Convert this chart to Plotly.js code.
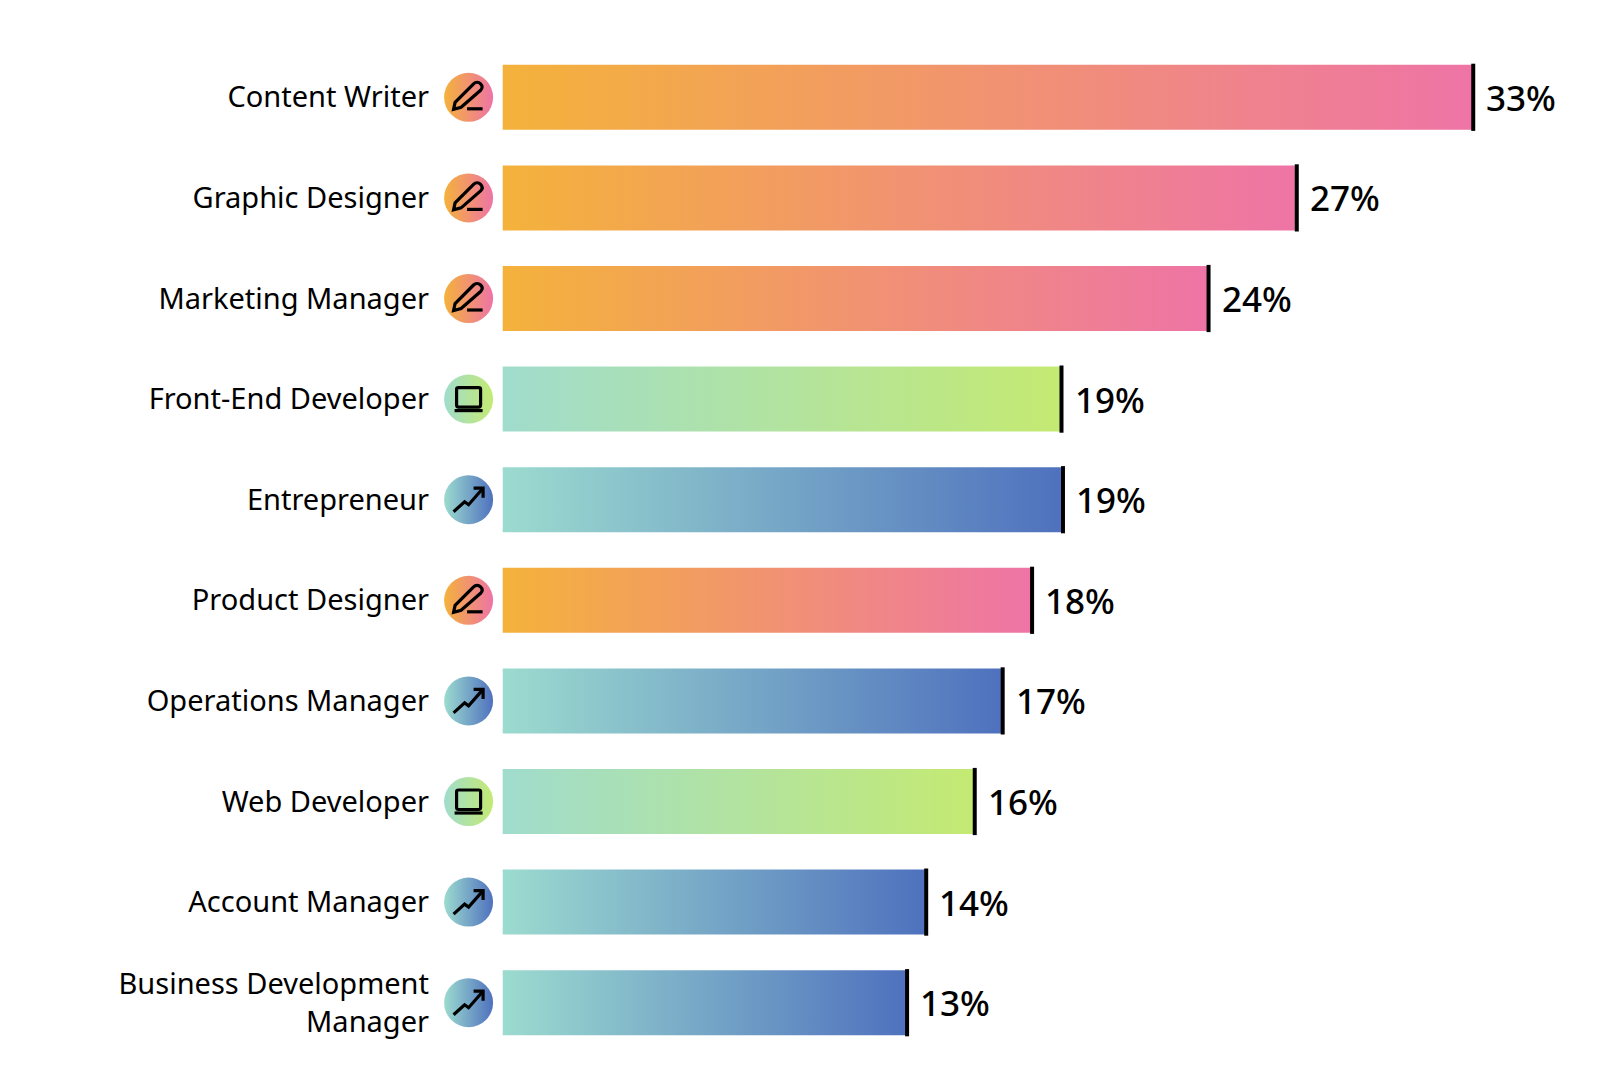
<!DOCTYPE html>
<html>
<head>
<meta charset="utf-8">
<script src="https://cdn.plot.ly/plotly-3.0.1.min.js"></script>
<style>
body { margin: 0; background: #fff; }
#chart { width: 1610px; height: 1072px; }
</style>
</head>
<body>
<div id="chart"></div>
<script>
var jobs = ["Content Writer", "Graphic Designer", "Marketing Manager", "Front-End Developer", "Entrepreneur",
    "Product Designer", "Operations Manager", "Web Developer", "Account Manager", "Business Development<br>Manager"];
var shares = [33, 27, 24, 19, 19.05, 18, 17, 16.05, 14.4, 13.75];
var shareLabels = ["33%", "27%", "24%", "19%", "19%", "18%", "17%", "16%", "14%", "13%"];
var groups = ["pen", "pen", "pen", "laptop", "trend", "pen", "trend", "laptop", "trend", "trend"];

var groupColors = {
    pen: ["#f4b23b", "#ee74a6"],
    laptop: ["#a0dccd", "#c4ea72"],
    trend: ["#9cdbcf", "#4f71be"],
};

// icon outlines, pixels around the circle centre, y going up
var iconPaths = {
    pen: ["M-15,-12 L-13.5,-5 L5,13.5 C7,15.5 10,15.5 12,13.5 C14,11.5 14,9 12,7 L-7.5,-10 Z", "M-1.5,-11.5 L14,-11.5"],
    laptop: ["M-10,-8 L10,-8 C11.5,-8 12,-7 12,-6 L12,10 C12,11 11.5,11.5 10,11.5 L-10,11.5 C-11.5,11.5 -12,11 -12,10 L-12,-6 C-12,-7 -11.5,-8 -10,-8 Z", "M-14,-11.5 L14,-11.5"],
    trend: ["M-15,-12 L-4,-2 L0,-5 L14,11", "M5,11.5 L14.5,11.5 L14.5,2"],
};

var iconX = -1.16;
var barWidth = 0.646;

var rows = jobs.map((j, i) => i);

var barsTrace = {
    type: "bar",
    orientation: "h",
    x: shares,
    y: rows,
    width: barWidth,
    marker: { color: groups.map((g) => groupColors[g][0]), line: { width: 0 } },
    hoverinfo: "skip",
};

var endTrace = {
    type: "scatter",
    mode: "markers",
    x: shares,
    y: rows,
    marker: { symbol: "line-ns", size: 48, line: { width: 4, color: "#000000" } },
    hoverinfo: "skip",
};

var circlesTrace = {
    type: "scatter",
    mode: "markers",
    x: rows.map(() => iconX),
    y: rows,
    marker: {
        size: 49,
        color: groups.map((g) => groupColors[g][0]),
        gradient: { type: "horizontal", color: groups.map((g) => groupColors[g][1]) },
        line: { width: 0 },
    },
    hoverinfo: "skip",
};

var shapes = [];
rows.forEach((i) => {
    iconPaths[groups[i]].forEach((p) => {
        shapes.push({
            type: "path",
            path: p,
            xref: "x",
            yref: "y",
            xsizemode: "pixel",
            ysizemode: "pixel",
            xanchor: iconX,
            yanchor: i,
            line: { color: "#000000", width: 3.2 },
            layer: "above",
        });
    });
});

var annotations = rows.map((i) => ({
    x: shares[i],
    y: i,
    text: shareLabels[i],
    showarrow: false,
    xanchor: "left",
    xshift: 11,
    font: { family: "Noto Sans", size: 35, weight: 500, color: "#000000" },
}));

var layout = {
    width: 1610,
    height: 1072,
    showlegend: false,
    barmode: "overlay",
    paper_bgcolor: "#ffffff",
    plot_bgcolor: "#ffffff",
    margin: { l: 438, r: 0, t: 47, b: 19, pad: 0 },
    xaxis: { range: [-2.2, 37.65], visible: false, fixedrange: true },
    yaxis: {
        range: [9.5, -0.5],
        tickmode: "array",
        tickvals: rows,
        ticktext: jobs,
        ticks: "",
        showgrid: false,
        zeroline: false,
        showline: false,
        ticklabelstandoff: 8,
        tickfont: { family: "Noto Sans", size: 29, color: "#000000" },
        automargin: false,
    },
    shapes: shapes,
    annotations: annotations,
};

Plotly.newPlot("chart", [barsTrace, endTrace, circlesTrace], layout, { staticPlot: true }).then((gd) => {
    // bars have no gradient option, so fill them from svg defs
    var svg = gd.querySelector(".main-svg");
    var defs = document.createElementNS("http://www.w3.org/2000/svg", "defs");
    for (var g in groupColors) {
        var grad = document.createElementNS("http://www.w3.org/2000/svg", "linearGradient");
        grad.setAttribute("id", "bar-" + g);
        groupColors[g].forEach((c, k) => {
            var stop = document.createElementNS("http://www.w3.org/2000/svg", "stop");
            stop.setAttribute("offset", k);
            stop.setAttribute("stop-color", c);
            grad.appendChild(stop);
        });
        defs.appendChild(grad);
    }
    svg.appendChild(defs);
    gd.querySelectorAll(".bars .point path").forEach((bar, i) => {
        bar.style.fill = "url(#bar-" + groups[i] + ")";
    });
});
</script>
</body>
</html>
